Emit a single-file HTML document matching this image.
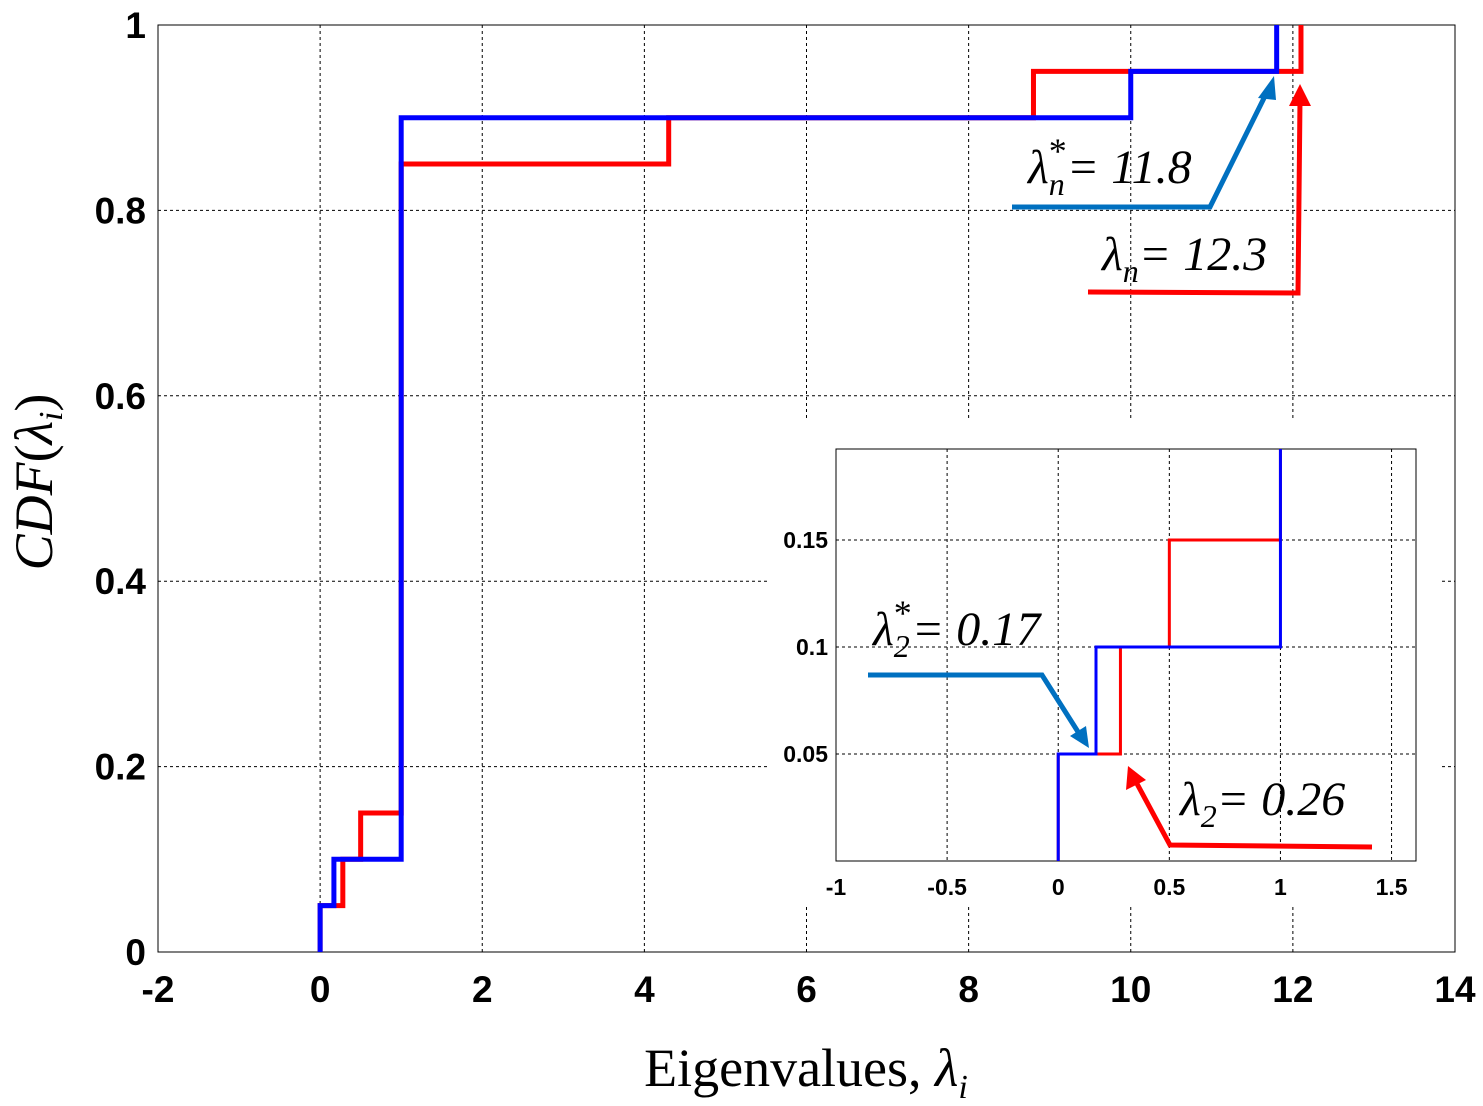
<!DOCTYPE html>
<html><head><meta charset="utf-8"><style>
body{margin:0;background:#fff}
svg{display:block}
.tk{font-family:"Liberation Sans",sans-serif;font-weight:bold;font-size:37px}
.itk{font-family:"Liberation Sans",sans-serif;font-weight:bold;font-size:23px}
.ann{font-family:"Liberation Serif",serif;font-style:italic;font-size:48px}
.lab{font-family:"Liberation Serif",serif;font-size:54px}
</style></head><body>
<svg id="chart" width="1483" height="1106" viewBox="0 0 1483 1106">
<g id="main"></g>
<g id="inset"></g>
<g id="ann">
 <polyline points="1012,207 1210,207 1268,90" fill="none" stroke="#0070c0" stroke-width="5"/>
 <polygon points="1274,76 1258,98 1276,100" fill="#0070c0"/>
 <polyline points="1088,292 1298,293 1300,100" fill="none" stroke="#f00" stroke-width="5"/>
 <polygon points="1300,84 1289,106 1311,106" fill="#f00"/>
 <text class="ann" x="1028" y="183">λ<tspan font-size="32" dy="12">n</tspan><tspan font-size="36" dx="-16" dy="-32" font-style="normal">*</tspan><tspan dy="20">= 11.8</tspan></text>
 <text class="ann" x="1102" y="270">λ<tspan font-size="32" dy="12">n</tspan><tspan dy="-12">= 12.3</tspan></text>
 <polyline points="868,675 1042,675 1080,735" fill="none" stroke="#0070c0" stroke-width="5"/>
 <polygon points="1089,748 1070,736 1086,726" fill="#0070c0"/>
 <polyline points="1372,847 1170,845 1135,780" fill="none" stroke="#f00" stroke-width="5"/>
 <polygon points="1128,766 1126,790 1146,780" fill="#f00"/>
 <text class="ann" x="873" y="645">λ<tspan font-size="32" dy="12">2</tspan><tspan font-size="36" dx="-16" dy="-32" font-style="normal">*</tspan><tspan dy="20">= 0.17</tspan></text>
 <text class="ann" x="1180" y="815">λ<tspan font-size="32" dy="12">2</tspan><tspan dy="-12">= 0.26</tspan></text>
</g>
<text class="lab" x="806" y="1086" text-anchor="middle">Eigenvalues, <tspan font-style="italic">λ<tspan font-size="34" dy="12">i</tspan></tspan></text>
<text class="lab" transform="translate(52,482) rotate(-90)" text-anchor="middle"><tspan font-style="italic">CDF</tspan>(<tspan font-style="italic">λ<tspan font-size="34" dy="10">i</tspan></tspan><tspan dy="-10">)</tspan></text>
</svg>
<script>
const redX=[0,0.28,0.5,1,4.3,8.8,12.1];
const redY=[0.05,0.1,0.15,0.85,0.9,0.95,1];
const blueX=[0,0.17,1,10,11.8];
const blueY=[0.05,0.1,0.9,0.95,1];
const xTicks=[-2,0,2,4,6,8,10,12,14];
const yTicks=[0,0.2,0.4,0.6,0.8,1];
const yTickLabels=["0","0.2","0.4","0.6","0.8","1"];
const ixTicks=[-1,-0.5,0,0.5,1,1.5];
const iyTicks=[0.05,0.1,0.15];
const iyTickLabels=["0.05","0.1","0.15"];
const NS="http://www.w3.org/2000/svg";
function mk(p,t,a){const e=document.createElementNS(NS,t);for(const k in a)e.setAttribute(k,a[k]);p.appendChild(e);return e;}
function stepPts(xs,ys,sx,sy){
  let pts=[[sx(xs[0]),sy(0)]];let prev=0;
  for(let i=0;i<xs.length;i++){pts.push([sx(xs[i]),sy(prev)]);pts.push([sx(xs[i]),sy(ys[i])]);prev=ys[i];
    if(i+1<xs.length)pts.push([sx(xs[i+1]),sy(prev)]);}
  return pts.map(p=>p.join(',')).join(' ');
}
const M={l:158,r:1455,t:25,b:952,x0:-2,x1:14};
const mx=v=>M.l+(v-M.x0)/(M.x1-M.x0)*(M.r-M.l);
const my=v=>M.b-v*(M.b-M.t);
const g=document.getElementById('main');
mk(g,'rect',{x:M.l,y:M.t,width:M.r-M.l,height:M.b-M.t,fill:'#fff',stroke:'none'});
xTicks.forEach(v=>{
  const l=mk(g,'line',{x1:mx(v),x2:mx(v),y1:M.t,y2:M.b,stroke:'#000','stroke-width':1,'stroke-dasharray':'3,3'});
  
  
  const t=mk(g,'text',{x:mx(v),y:M.b+50,'text-anchor':'middle',class:'tk'});t.textContent=v;
  
  
});
yTicks.forEach((v,i)=>{
  const l=mk(g,'line',{x1:M.l,x2:M.r,y1:my(v),y2:my(v),stroke:'#000','stroke-width':1,'stroke-dasharray':'3,3'});
  
  
  const t=mk(g,'text',{x:M.l-12,y:my(v)+13,'text-anchor':'end',class:'tk'});t.textContent=yTickLabels[i];
  
  
});
const wb=mk(g,'rect',{x:770,y:420,width:670,height:485,fill:'#fff'});


mk(g,'rect',{x:M.l,y:M.t,width:M.r-M.l,height:M.b-M.t,fill:'none',stroke:'#000','stroke-width':1});
const rl=mk(g,'polyline',{points:stepPts(redX,redY,mx,my),fill:'none',stroke:'#f00','stroke-width':5});


const bl=mk(g,'polyline',{points:stepPts(blueX,blueY,mx,my),fill:'none',stroke:'#00f','stroke-width':5});


const I={l:836,r:1416,t:449,b:861,x0:-1,x1:1.61,y0:0,y1:0.1925};
const ix=v=>I.l+(v-I.x0)/(I.x1-I.x0)*(I.r-I.l);
const iy=v=>I.b-(v-I.y0)/(I.y1-I.y0)*(I.b-I.t);
const h=document.getElementById('inset');
const clip=mk(h,'clipPath',{id:'ic'});mk(clip,'rect',{x:I.l,y:I.t,width:I.r-I.l,height:I.b-I.t});
ixTicks.forEach(v=>{
  const l=mk(h,'line',{x1:ix(v),x2:ix(v),y1:I.t,y2:I.b,stroke:'#000','stroke-width':1,'stroke-dasharray':'3,3'});
  
  
  const t=mk(h,'text',{x:ix(v),y:I.b+34,'text-anchor':'middle',class:'itk'});t.textContent=v;
  
  
});
iyTicks.forEach((v,i)=>{
  const l=mk(h,'line',{x1:I.l,x2:I.r,y1:iy(v),y2:iy(v),stroke:'#000','stroke-width':1,'stroke-dasharray':'3,3'});
  
  
  const t=mk(h,'text',{x:I.l-8,y:iy(v)+8,'text-anchor':'end',class:'itk'});t.textContent=iyTickLabels[i];
  
  
});
mk(h,'rect',{x:I.l,y:I.t,width:I.r-I.l,height:I.b-I.t,fill:'none',stroke:'#000','stroke-width':1});
const irl=mk(h,'polyline',{points:stepPts(redX,redY,ix,iy),fill:'none',stroke:'#f00','stroke-width':3,'clip-path':'url(#ic)'});


const ibl=mk(h,'polyline',{points:stepPts(blueX,blueY,ix,iy),fill:'none',stroke:'#00f','stroke-width':3,'clip-path':'url(#ic)'});


</script>
</body></html>
